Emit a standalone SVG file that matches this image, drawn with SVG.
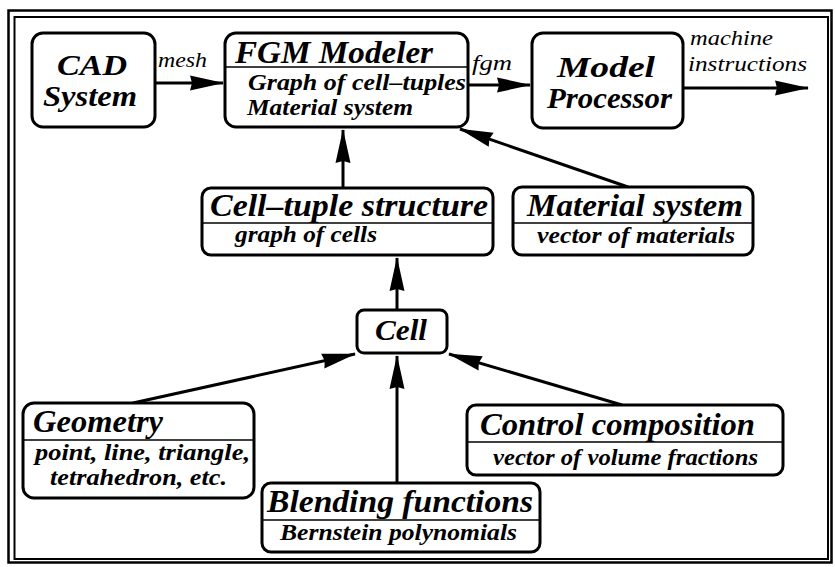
<svg xmlns="http://www.w3.org/2000/svg" width="835" height="567" viewBox="0 0 835 567">
<defs>
<marker id="ah" markerUnits="userSpaceOnUse" markerWidth="40" markerHeight="20" viewBox="-36 -10 40 20" refX="1" refY="0" orient="auto">
<path d="M2,0 L-32,-7.5 L-30,0 L-32,7.5 Z" fill="#000"/>
</marker>
</defs>
<style>
.box{fill:#fff;stroke:#000;stroke-width:3}
.div{stroke:#000;stroke-width:1.6}
.t{font-family:"Liberation Serif","DejaVu Serif",serif;font-weight:bold;font-style:italic;fill:#000}
.big{font-size:32px}
.sub{font-size:23px}
.lab{font-family:"Liberation Serif","DejaVu Serif",serif;font-style:italic;font-size:20px;fill:#000}
.c{stroke:#000;stroke-width:3;fill:none;marker-end:url(#ah)}
</style>
<rect width="835" height="567" fill="#fff"/>
<rect x="8.5" y="10.5" width="823" height="552" fill="none" stroke="#000" stroke-width="2.5"/>
<rect x="14.5" y="17" width="813.5" height="542" fill="none" stroke="#000" stroke-width="2"/>

<g id="connectors">
<line class="c" x1="155" y1="83" x2="223" y2="83"/>
<line class="c" x1="468" y1="85" x2="530" y2="85"/>
<line class="c" x1="683" y1="88" x2="808" y2="88"/>
<line class="c" x1="343" y1="188" x2="343" y2="130"/>
<line class="c" x1="628" y1="187" x2="460" y2="129"/>
<line class="c" x1="397" y1="310" x2="397" y2="258"/>
<line class="c" x1="133" y1="403" x2="355" y2="354"/>
<line class="c" x1="397" y1="483" x2="397" y2="356"/>
<line class="c" x1="622" y1="405" x2="449" y2="354"/>
</g>
<g id="edge-labels">
<text class="lab" x="158" y="67" textLength="49" lengthAdjust="spacingAndGlyphs">mesh</text>
<text class="lab" x="472" y="70" textLength="40" lengthAdjust="spacingAndGlyphs">fgm</text>
<text class="lab" x="690" y="45" textLength="83" lengthAdjust="spacingAndGlyphs">machine</text>
<text class="lab" x="688" y="71" textLength="119" lengthAdjust="spacingAndGlyphs">instructions</text>
</g>

<g id="cad">
<rect class="box" x="32" y="33" width="123" height="94" rx="11"/>
<text class="t" x="57" y="75" font-size="29" textLength="70" lengthAdjust="spacingAndGlyphs">CAD</text>
<text class="t" x="43" y="106" font-size="29" textLength="94" lengthAdjust="spacingAndGlyphs">System</text>
</g>

<g id="fgm-modeler">
<rect class="box" x="225" y="33" width="243" height="94" rx="11"/>
<line class="div" x1="226" y1="67" x2="467" y2="67"/>
<text class="t big" x="235" y="63" textLength="198" lengthAdjust="spacingAndGlyphs">FGM Modeler</text>
<text class="t sub" x="248" y="90" textLength="218" lengthAdjust="spacingAndGlyphs">Graph of cell–tuples</text>
<text class="t sub" x="247" y="115" textLength="166" lengthAdjust="spacingAndGlyphs">Material system</text>
</g>

<g id="model-processor">
<rect class="box" x="532" y="33" width="151" height="95" rx="11"/>
<text class="t" x="557" y="77" font-size="29" textLength="98" lengthAdjust="spacingAndGlyphs">Model</text>
<text class="t" x="547" y="108" font-size="29" textLength="125" lengthAdjust="spacingAndGlyphs">Processor</text>
</g>

<g id="cell-tuple">
<rect class="box" x="202" y="188" width="291" height="67" rx="9"/>
<line class="div" x1="203" y1="223" x2="492" y2="223"/>
<text class="t big" x="210" y="216" textLength="278" lengthAdjust="spacingAndGlyphs">Cell–tuple structure</text>
<text class="t sub" x="235" y="242" textLength="142" lengthAdjust="spacingAndGlyphs">graph of cells</text>
</g>

<g id="material-system">
<rect class="box" x="513" y="187" width="240" height="68" rx="9"/>
<line class="div" x1="514" y1="223" x2="752" y2="223"/>
<text class="t big" x="527" y="216" textLength="216" lengthAdjust="spacingAndGlyphs">Material system</text>
<text class="t sub" x="537" y="243" textLength="198" lengthAdjust="spacingAndGlyphs">vector of materials</text>
</g>

<g id="cell">
<rect class="box" x="357" y="310" width="90" height="43" rx="7"/>
<text class="t" x="375" y="340" font-size="30" textLength="52" lengthAdjust="spacingAndGlyphs">Cell</text>
</g>

<g id="geometry">
<rect class="box" x="23" y="403" width="231" height="95" rx="11"/>
<line class="div" x1="24" y1="440" x2="253" y2="440"/>
<text class="t big" x="33" y="432" textLength="130" lengthAdjust="spacingAndGlyphs">Geometry</text>
<text class="t sub" x="35" y="460" textLength="215" lengthAdjust="spacingAndGlyphs">point, line, triangle,</text>
<text class="t sub" x="50" y="485" textLength="177" lengthAdjust="spacingAndGlyphs">tetrahedron, etc.</text>
</g>

<g id="blending">
<rect class="box" x="262" y="483" width="278" height="69" rx="9"/>
<line class="div" x1="263" y1="520" x2="539" y2="520"/>
<text class="t big" x="267" y="512" textLength="266" lengthAdjust="spacingAndGlyphs">Blending functions</text>
<text class="t sub" x="280" y="540" textLength="237" lengthAdjust="spacingAndGlyphs">Bernstein polynomials</text>
</g>

<g id="control">
<rect class="box" x="467" y="405" width="316" height="70" rx="9"/>
<line class="div" x1="468" y1="442" x2="782" y2="442"/>
<text class="t big" x="480" y="435" textLength="275" lengthAdjust="spacingAndGlyphs">Control composition</text>
<text class="t sub" x="493" y="465" textLength="265" lengthAdjust="spacingAndGlyphs">vector of volume fractions</text>
</g>
</svg>
